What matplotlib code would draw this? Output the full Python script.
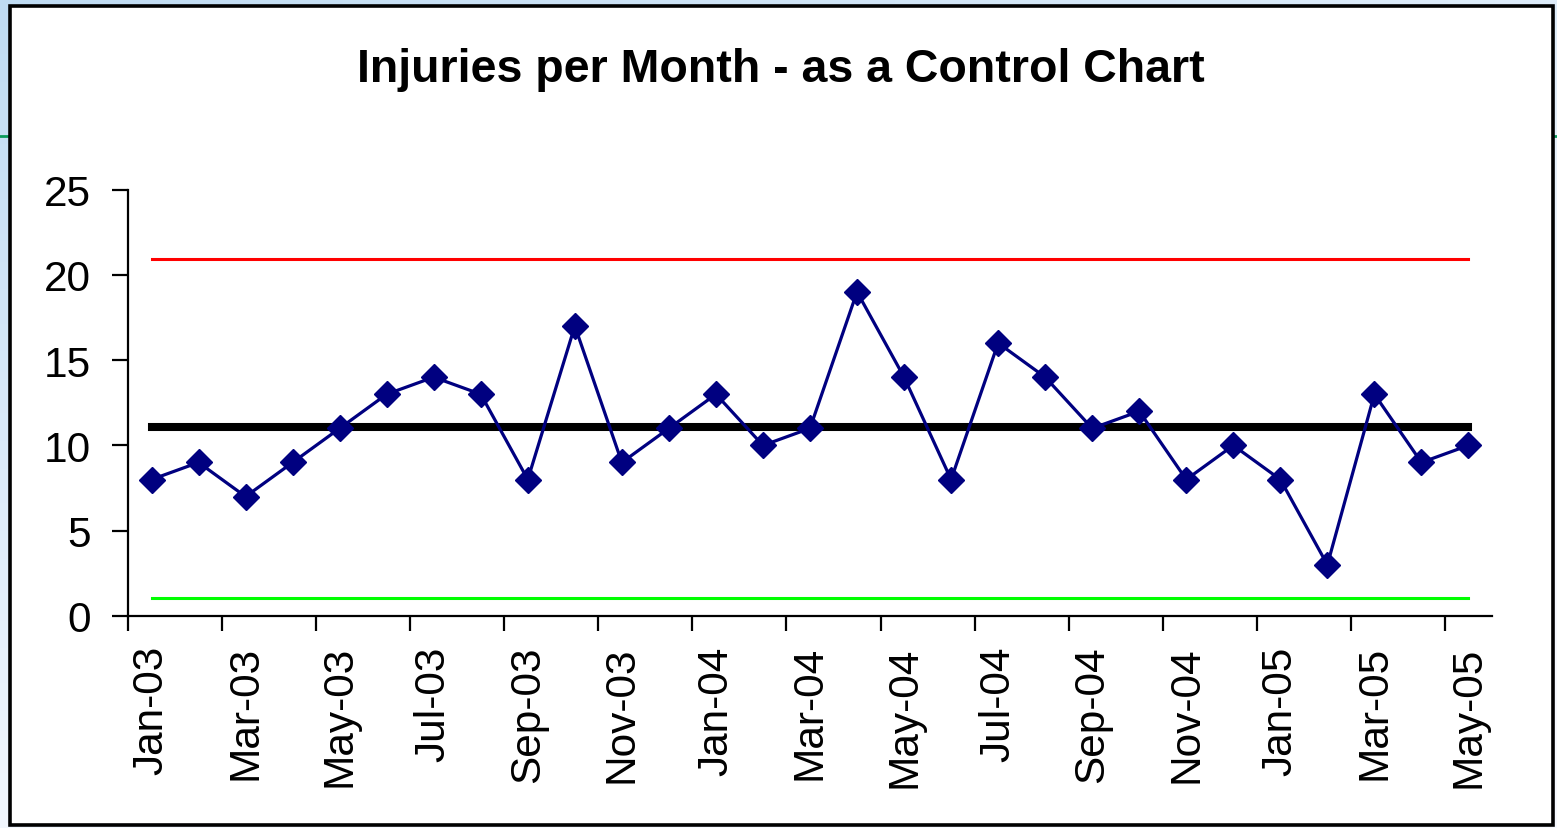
import matplotlib.pyplot as plt
import matplotlib.patches as mpatches
import numpy as np
from matplotlib import rcParams
rcParams['font.family'] = 'sans-serif'
rcParams['font.sans-serif'] = ['Liberation Sans']

months = ['Jan-03', 'Feb-03', 'Mar-03', 'Apr-03', 'May-03', 'Jun-03', 'Jul-03', 'Aug-03',
          'Sep-03', 'Oct-03', 'Nov-03', 'Dec-03', 'Jan-04', 'Feb-04', 'Mar-04', 'Apr-04',
          'May-04', 'Jun-04', 'Jul-04', 'Aug-04', 'Sep-04', 'Oct-04', 'Nov-04', 'Dec-04',
          'Jan-05', 'Feb-05', 'Mar-05', 'Apr-05', 'May-05']
injuries = [8, 9, 7, 9, 11, 13, 14, 13, 8, 17, 9, 11, 13, 10, 11, 19,
            14, 8, 16, 14, 11, 12, 8, 10, 8, 3, 13, 9, 10]
mean_val = 11.1
ucl = 20.9
lcl = 1.05

fig = plt.figure(figsize=(15.57, 8.29), dpi=100)

# slide background gradient behind the chart
bg = fig.add_axes([0, 0, 1, 1], zorder=-10)
gx = np.linspace(0, 1, 200)
gy = np.linspace(0, 1, 120)
GX, GY = np.meshgrid(gx, gy)
t = np.clip(0.55 * GX + 0.9 * GY, 0, 1)
c0 = np.array([0.75, 0.86, 0.95])
c1 = np.array([0.97, 0.98, 1.0])
img = c0[None, None, :] * (1 - t[..., None]) + c1[None, None, :] * t[..., None]
bg.imshow(img, aspect='auto', extent=[0, 1, 0, 1])
bg.plot([0, 1], [1 - 137/829, 1 - 137/829], color='#0a9a5a', lw=2)
bg.set_xlim(0, 1)
bg.set_ylim(0, 1)
bg.axis('off')

# chart area box
box = mpatches.Rectangle((9.5/1557, 3.5/829), (1553 - 9.5)/1557, (822.5 - 3.5)/829,
                         transform=fig.transFigure, facecolor='white', edgecolor='black',
                         linewidth=2.6, zorder=-5)
fig.patches.append(box)

ax = fig.add_axes([128/1557, 1 - 617/829, (1492 - 128)/1557, (617 - 190.5)/829])
ax.set_facecolor('none')
x = np.arange(len(months))

ax.plot(x, [ucl] * len(x), color='#ff0000', lw=2.2)
ax.plot(x, [lcl] * len(x), color='#00ff00', lw=2.2)
ax.plot(x, [mean_val] * len(x), color='black', lw=5.8)
ax.plot(x, injuries, color='#000080', lw=2.3, marker='D', markersize=13,
        markerfacecolor='#000080', markeredgecolor='#000080')

ax.set_xlim(-0.5, len(months) - 0.5)
ax.set_ylim(0, 25)
ax.set_yticks([0, 5, 10, 15, 20, 25])
ax.set_xticks(np.arange(-0.5, len(months), 2))
ax.set_xticklabels([])
ax.set_xticks(x[::2], minor=True)
ax.set_xticklabels(months[::2], minor=True, rotation=90)
ax.tick_params(axis='x', which='minor', length=0, pad=21, labelsize=30.5)
ax.tick_params(axis='x', which='major', length=11, width=1.6, direction='out')
ax.tick_params(axis='y', length=11.5, width=1.6, direction='out', pad=15, labelsize=30.5)

for s in ['top', 'right']:
    ax.spines[s].set_visible(False)
for s in ['left', 'bottom']:
    ax.spines[s].set_linewidth(1.6)

fig.text(781/1557, 1 - 70/829, 'Injuries per Month - as a Control Chart',
         ha='center', va='center', fontsize=33.5, fontweight='bold')

plt.savefig('out.png', dpi=100)
